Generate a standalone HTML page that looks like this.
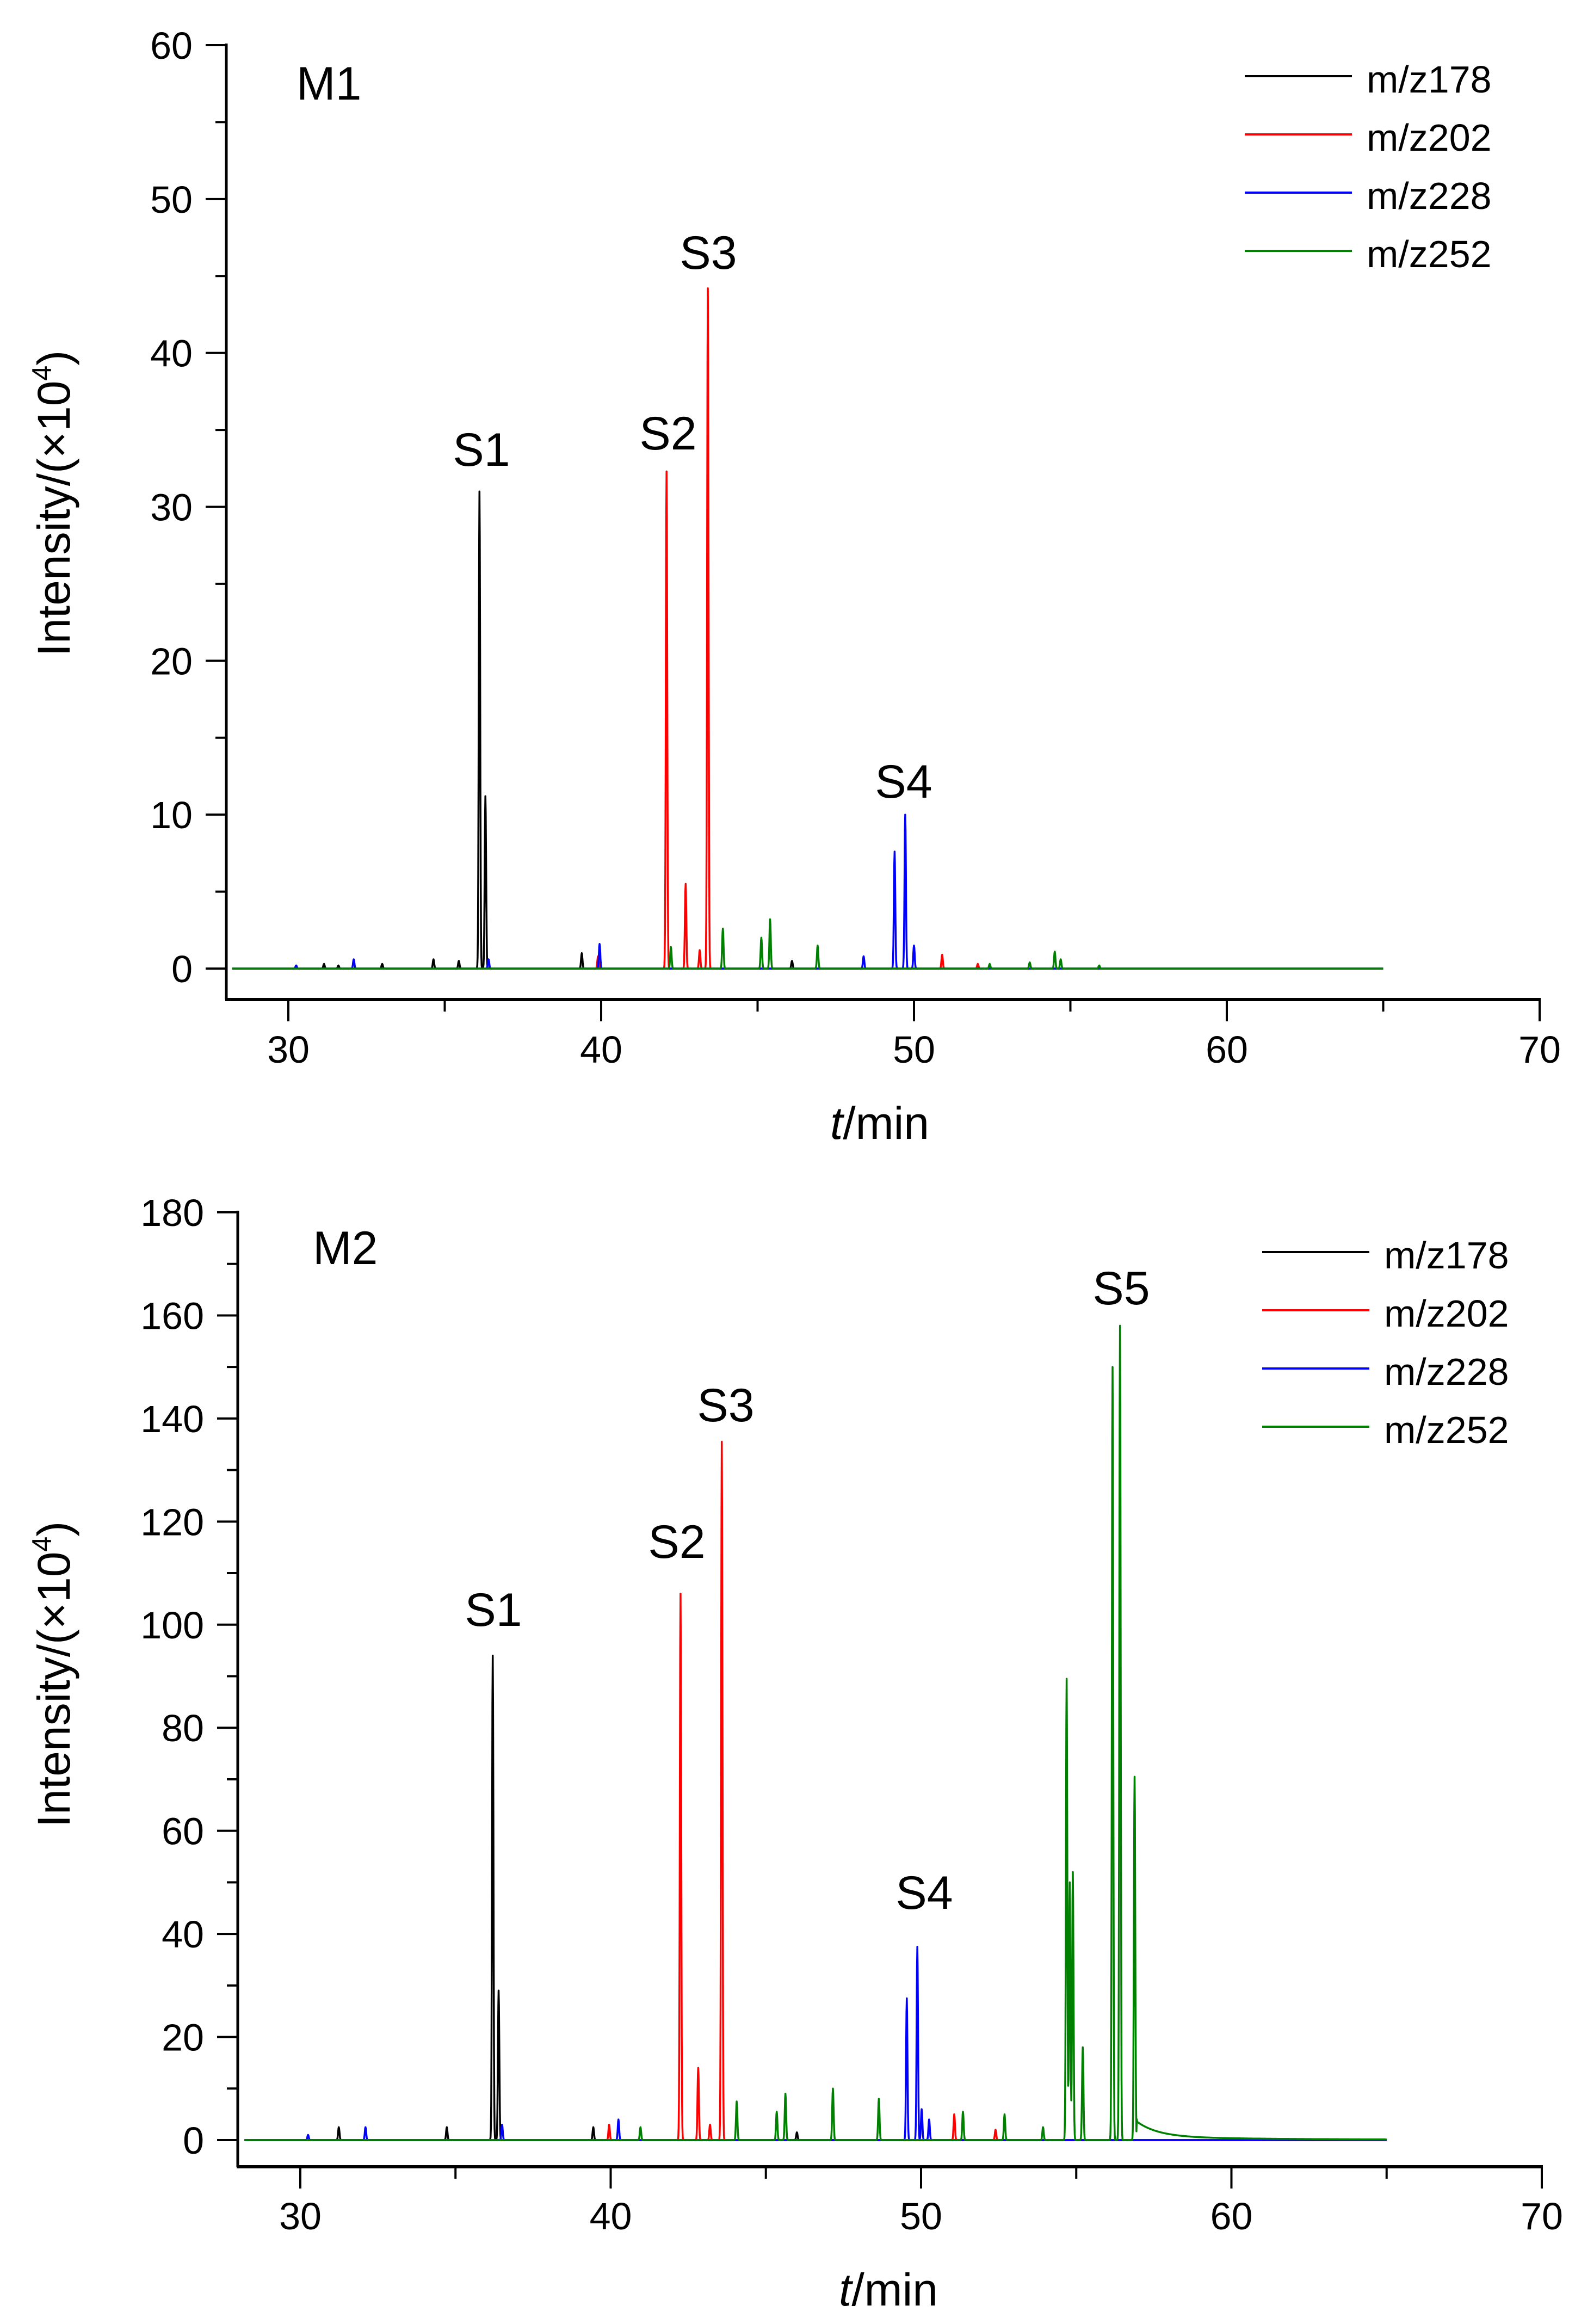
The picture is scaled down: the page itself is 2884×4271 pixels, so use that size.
<!DOCTYPE html>
<html><head><meta charset="utf-8"><style>
html,body{margin:0;padding:0;background:#fff}
svg{display:block}
text{font-family:"Liberation Sans",Arial,sans-serif;fill:#000}
</style></head><body>
<svg id="fig" width="2884" height="4271" viewBox="0 0 2884 4271" xmlns="http://www.w3.org/2000/svg"></svg>
<script>
// ---------- data ----------
const seriesNames = ["m/z178","m/z202","m/z228","m/z252"];
const seriesColors = ["#000000","#ff0000","#0000ff","#008000"];
const xTicks = [30,40,50,60,70];
const m1YTicks = [0,10,20,30,40,50,60];
const m2YTicks = [0,20,40,60,80,100,120,140,160,180];

// M1 peaks (retention time in min, intensity x10^4)
const m1BlackT = [31.14,31.6,33.0,34.64,35.45,36.11,36.3,39.38,46.1];
const m1BlackH = [0.3,0.2,0.3,0.6,0.5,31,11.2,1.0,0.5];
const m1RedT = [39.9,42.09,42.7,43.15,43.41,50.9,52.04];
const m1RedH = [0.8,32.3,5.5,1.2,44.2,0.9,0.3];
const m1BlueT = [30.25,32.09,36.4,39.95,48.39,49.38,49.72,50.0];
const m1BlueH = [0.2,0.6,0.6,1.6,0.8,7.6,10,1.5];
const m1GreenT = [42.23,43.89,45.12,45.4,46.92,52.42,53.7,54.5,54.69,55.92];
const m1GreenH = [1.4,2.6,2.0,3.2,1.5,0.3,0.4,1.1,0.6,0.2];

// M2 peaks
const m2BlackT = [31.24,34.72,36.2,36.39,39.44,46.0];
const m2BlackH = [2.5,2.5,94,29,2.5,1.5];
const m2RedT = [39.95,42.25,42.82,43.2,43.58,51.07,52.4];
const m2RedH = [3,106,14,3,135.5,5,2];
const m2BlueT = [30.25,32.1,36.5,40.25,49.54,49.88,50.02,50.26];
const m2BlueH = [1,2.5,3,4,27.5,37.5,6,4];
const m2GreenT = [40.96,44.06,45.35,45.63,47.16,48.64,51.35,52.69,53.93,54.69,54.79,54.89,55.21,56.17,56.41,56.88];
const m2GreenH = [2.5,7.5,5.5,9,10,8,5.5,5,2.5,89.5,50,52,18,150,158,70.5];
const m2GreenTail = [56.95,3.0,0.7,0.6,5.0]; // start, amp1, decay1, amp2, decay2

// ---------- drawing ----------
const NS="http://www.w3.org/2000/svg";
const svg=document.getElementById('fig');
function el(tag,attrs,parent){const e=document.createElementNS(NS,tag);for(const k in attrs)e.setAttribute(k,attrs[k]);(parent||svg).appendChild(e);return e;}

function trace(T,H,tail){
  const pts=new Set();
  for(let i=0;i<=3680;i++)pts.add(+(28.2+i*0.01).toFixed(2));
  T.forEach(t=>pts.add(t));
  const ts=[...pts].sort((a,b)=>a-b).filter(t=>t<=65);
  return ts.map(t=>{
    let v=0;
    for(let i=0;i<T.length;i++){const d=t-T[i];if(Math.abs(d)<0.3)v+=H[i]*Math.exp(-d*d/(2*0.022*0.022));}
    if(tail&&t>=tail[0]){const d=t-tail[0];v+=tail[1]*Math.exp(-d/tail[2])+tail[3]*Math.exp(-d/tail[4]);}
    return [t,v];
  });
}

function panel(cfg){
  const g=el('g',{});
  
  
  const X=v=>cfg.x30+(v-30)*cfg.pxMin;
  const Y=v=>cfg.y0-v*cfg.pxUnit;
  const axisRight=X(70);
  cfg.series.forEach((s,i)=>{
    const d=trace(s[0],s[1],s[2]).map((p,j)=>(j?'L':'M')+X(p[0]).toFixed(1)+' '+Y(p[1]).toFixed(1)).join('');
    const p=el('path',{d:d,fill:'none',stroke:seriesColors[i],'stroke-width':3.5,'stroke-linejoin':'round'},g);
    
    
  });
  const ya=el('line',{x1:cfg.yAxisX,y1:Y(cfg.yMax)-3,x2:cfg.yAxisX,y2:cfg.xAxisY,stroke:'#000','stroke-width':5},g);
  
  
  const xa=el('line',{x1:cfg.yAxisX-2,y1:cfg.xAxisY,x2:axisRight+2,y2:cfg.xAxisY,stroke:'#000','stroke-width':6},g);
  
  
  const step=cfg.yTicks[1]-cfg.yTicks[0];
  for(let v=0;v<=cfg.yMax;v+=step/2){
    const major=cfg.yTicks.includes(v);
    el('line',{x1:cfg.yAxisX-(major?38:20),y1:Y(v),x2:cfg.yAxisX,y2:Y(v),stroke:'#000','stroke-width':4},g);
  }
  cfg.yTicks.forEach(v=>{
    const t=el('text',{x:cfg.yAxisX-62,y:Y(v)+25,'text-anchor':'end','font-size':70},g);
    t.textContent=v;
    
    
  });
  for(let v=30;v<=70;v+=5){
    const major=xTicks.includes(v);
    el('line',{x1:X(v),y1:cfg.xAxisY,x2:X(v),y2:cfg.xAxisY+(major?40:22),stroke:'#000','stroke-width':4},g);
  }
  xTicks.forEach(v=>{
    const t=el('text',{x:X(v),y:cfg.xLabY,'text-anchor':'middle','font-size':70},g);
    t.textContent=v;
    
    
  });
  const xt=el('text',{x:cfg.xTitle[0],y:cfg.xTitle[1],'text-anchor':'middle','font-size':84},g);
  xt.innerHTML='<tspan font-style="italic">t</tspan>/min';
  
  
  const yt=el('text',{transform:`translate(${cfg.yTitle[0]},${cfg.yTitle[1]}) rotate(-90)`,'text-anchor':'middle','font-size':84},g);
  yt.innerHTML='Intensity/(×10<tspan font-size="50" dy="-34">4</tspan><tspan dy="34">)</tspan>';
  
  
  const pl=el('text',{x:cfg.label[0],y:cfg.label[1],'font-size':86},g);
  pl.textContent=cfg.label[2];
  
  
  cfg.peaks.forEach(p=>{
    const t=el('text',{x:p[1],y:p[2]+31,'text-anchor':'middle','font-size':86},g);
    t.textContent=p[0];
    
    
  });
  seriesNames.forEach((n,i)=>{
    const y=cfg.legend[1]+i*107;
    const l=el('line',{x1:cfg.legend[0],y1:y,x2:cfg.legend[0]+197,y2:y,stroke:seriesColors[i],'stroke-width':4},g);
    
    
    const t=el('text',{x:cfg.legend[0]+224,y:y+30,'font-size':70},g);
    t.textContent=n;
    
    
  });
}

panel({name:'panel-m1',x30:530,pxMin:57.5,y0:1780,pxUnit:(1780-83)/60,yMax:60,yTicks:m1YTicks,
  yAxisX:416,xAxisY:1837,xLabY:1953,xTitle:[1617,2093],yTitle:[128,925],label:[545,183,'M1'],
  peaks:[['S1',885,825],['S2',1228,795],['S3',1302,463],['S4',1661,1435]],legend:[2288,140],
  series:[[m1BlackT,m1BlackH],[m1RedT,m1RedH],[m1BlueT,m1BlueH],[m1GreenT,m1GreenH]]});

panel({name:'panel-m2',x30:552,pxMin:57.05,y0:3933,pxUnit:(3933-2228)/180,yMax:180,yTicks:m2YTicks,
  yAxisX:437,xAxisY:3982,xLabY:4097,xTitle:[1633,4237],yTitle:[128,3077],label:[575,2323,'M2'],
  peaks:[['S1',907,2957],['S2',1244,2832],['S3',1334,2581],['S4',1699,3477],['S5',2061,2366]],legend:[2320,2301],
  series:[[m2BlackT,m2BlackH],[m2RedT,m2RedH],[m2BlueT,m2BlueH],[m2GreenT,m2GreenH,m2GreenTail]]});
</script>
</body></html>
